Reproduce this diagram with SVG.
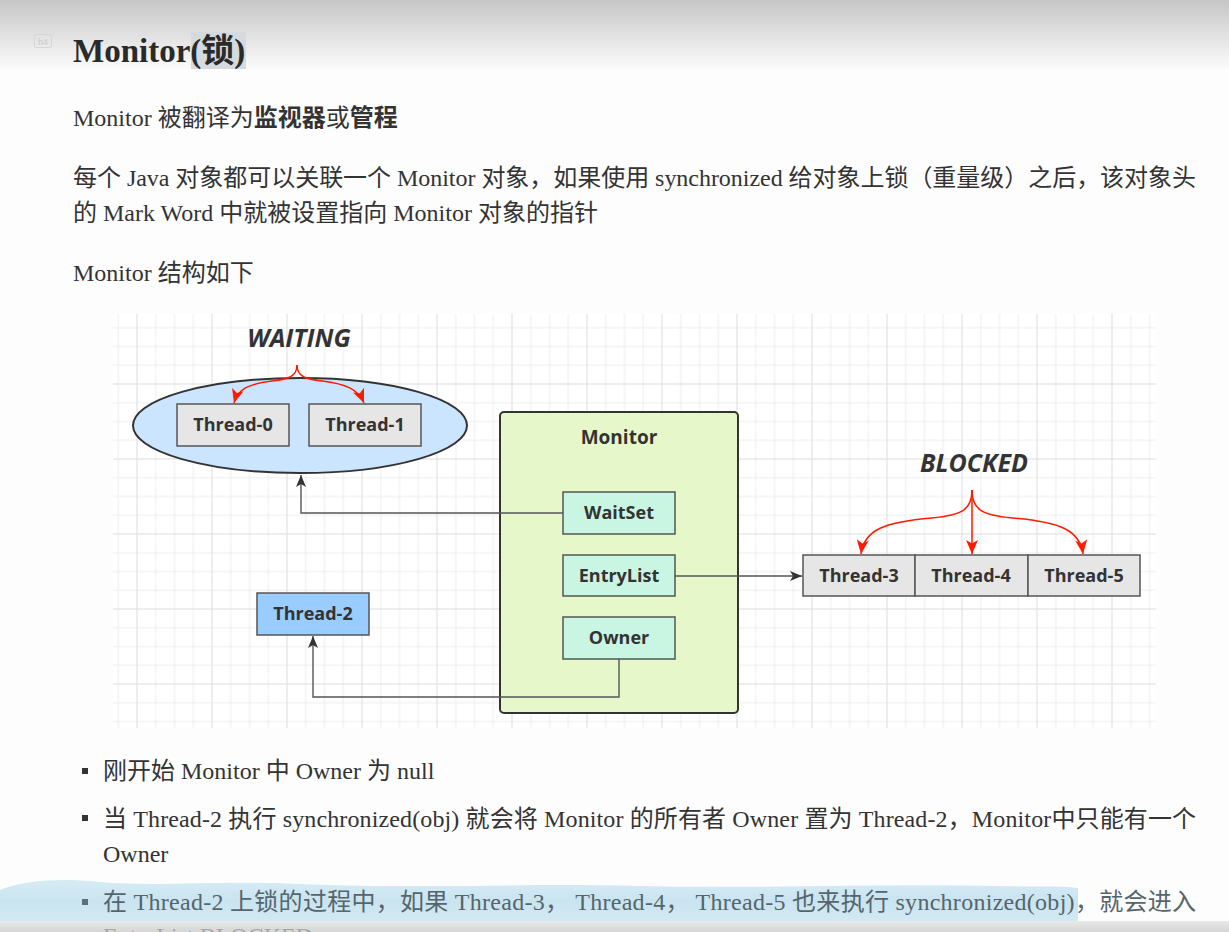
<svg xmlns="http://www.w3.org/2000/svg" width="1229" height="932" viewBox="0 0 1229 932">
<defs>
<linearGradient id="topfade" x1="0" y1="0" x2="0" y2="1">
<stop offset="0" stop-color="#c6c6c6"/>
<stop offset="1" stop-color="#fcfcfc"/>
</linearGradient>
<linearGradient id="botband" x1="0" y1="0" x2="0" y2="1">
<stop offset="0" stop-color="#e2e2e2"/>
<stop offset="1" stop-color="#c8c8c8"/>
</linearGradient>
<linearGradient id="brush" x1="0" y1="0" x2="0" y2="1">
<stop offset="0" stop-color="#d6ecf5"/>
<stop offset="0.5" stop-color="#c9e4f0"/>
<stop offset="1" stop-color="#d2e9f3"/>
</linearGradient>
<pattern id="grid" patternUnits="userSpaceOnUse" x="61.5" y="8.5" width="75" height="75">
<path d="M0.5 0V75M19.25 0V75M38 0V75M56.75 0V75M0 0.5H75M0 19.25H75M0 38H75M0 56.75H75" stroke="#ececec" stroke-width="1" fill="none"/>
<path d="M0.5 0V75M0 0.5H75" stroke="#dddddd" stroke-width="1" fill="none"/>
</pattern>
<marker id="arrDark" markerUnits="userSpaceOnUse" markerWidth="14" markerHeight="12" refX="12" refY="5" orient="auto">
<path d="M0 0L12 5L0 10L3 5z" fill="#333"/>
</marker>
<marker id="arrRed" markerUnits="userSpaceOnUse" markerWidth="16" markerHeight="14" refX="14" refY="6" orient="auto">
<path d="M0 0L14 6L0 12L3.5 6z" fill="#ff1a00"/>
</marker>
</defs>
<style>
.body{font-family:"Liberation Serif","Noto Sans CJK SC",serif;font-size:24px;fill:#333}
.b{font-weight:bold;font-family:"Noto Sans CJK SC",sans-serif}
.dg{font-family:"Open Sans","Noto Sans",sans-serif;font-weight:700;fill:#333;text-anchor:middle}
.lbl{font-size:18px}
.state{font-size:25px;font-style:italic}
.thr{fill:#e6e6e6;stroke:#555;stroke-width:1.5}
.sub{fill:#c9f5e3;stroke:#555;stroke-width:1.5}
.conn{fill:none;stroke:#555;stroke-width:1.4}
.red{fill:none;stroke:#ff1a00;stroke-width:1.5}
</style>
<rect x="0" y="0" width="1229" height="932" fill="#fdfdfd"/>
<rect x="0" y="0" width="1229" height="70" fill="url(#topfade)"/>

<!-- header -->
<rect x="34.5" y="34.5" width="17" height="13" rx="2" fill="none" stroke="#d6d6d6"/>
<text x="43" y="45" font-family="Liberation Sans,sans-serif" font-size="9" fill="#c8c8c8" text-anchor="middle">h4</text>
<rect x="191" y="32" width="55" height="37" fill="#d5dadf"/>
<text x="73" y="62" font-family="'Liberation Serif','Noto Sans CJK SC',serif" font-size="33" font-weight="bold" fill="#2a2a2a">Monitor(锁)</text>

<text class="body" x="73" y="126">Monitor 被翻译为<tspan class="b">监视器</tspan>或<tspan class="b">管程</tspan></text>
<text class="body" x="73" y="186" textLength="1123" lengthAdjust="spacing">每个 Java 对象都可以关联一个 Monitor 对象，如果使用 synchronized 给对象上锁（重量级）之后，该对象头</text>
<text class="body" x="73" y="221">的 Mark Word 中就被设置指向 Monitor 对象的指针</text>
<text class="body" x="73" y="281">Monitor 结构如下</text>

<!-- grid background -->
<rect x="113" y="314" width="1043" height="414" fill="#ffffff"/>
<rect x="113" y="314" width="1043" height="414" fill="url(#grid)"/>

<!-- nodes -->
<g id="waiting-label"><text class="dg state" x="299" y="347">WAITING</text></g>
<g id="waitset-ellipse"><ellipse cx="300" cy="425.5" rx="167" ry="47.5" fill="#cce5ff" stroke="#333" stroke-width="2"/></g>
<g id="thread-0"><rect class="thr" x="177" y="404" width="112" height="42"/><text class="dg lbl" x="233" y="431">Thread-0</text></g>
<g id="thread-1"><rect class="thr" x="309" y="404" width="112" height="42"/><text class="dg lbl" x="365" y="431">Thread-1</text></g>

<g id="monitor"><rect x="500" y="412" width="238" height="301" rx="4" fill="#e6f8c9" stroke="#333" stroke-width="2"/><text class="dg" font-size="19" x="619" y="444">Monitor</text></g>
<g id="waitset"><rect class="sub" x="563" y="492" width="112" height="42"/><text class="dg lbl" x="619" y="519">WaitSet</text></g>
<g id="entrylist"><rect class="sub" x="563" y="555" width="112" height="41"/><text class="dg lbl" x="619" y="582">EntryList</text></g>
<g id="owner"><rect class="sub" x="563" y="617" width="112" height="42"/><text class="dg lbl" x="619" y="644">Owner</text></g>

<g id="thread-2"><rect x="257" y="593" width="112" height="42" fill="#99ccff" stroke="#555" stroke-width="1.5"/><text class="dg lbl" x="313" y="620">Thread-2</text></g>

<g id="blocked-label"><text class="dg state" x="974" y="472">BLOCKED</text></g>
<g id="thread-3"><rect class="thr" x="803" y="555" width="112" height="41"/><text class="dg lbl" x="859" y="582">Thread-3</text></g>
<g id="thread-4"><rect class="thr" x="915" y="555" width="113" height="41"/><text class="dg lbl" x="971" y="582">Thread-4</text></g>
<g id="thread-5"><rect class="thr" x="1028" y="555" width="112" height="41"/><text class="dg lbl" x="1084" y="582">Thread-5</text></g>

<!-- connectors -->
<g id="connectors">
<path class="conn" d="M563 513H301V475" marker-end="url(#arrDark)"/>
<path class="conn" d="M675 576H802" marker-end="url(#arrDark)"/>
<path class="conn" d="M619 659V697H313V636" marker-end="url(#arrDark)"/>
<path class="red" d="M297 365C297 377 288 379 272 381C248 384 238 389 234 403" marker-end="url(#arrRed)"/>
<path class="red" d="M297 365C297 377 306 379 322 381C346 384 358 389 364 403" marker-end="url(#arrRed)"/>
<path class="red" d="M972 490C972 510 962 515 932 518C884 522 864 530 861 554" marker-end="url(#arrRed)"/>
<path class="red" d="M972 490V554" marker-end="url(#arrRed)"/>
<path class="red" d="M972 490C972 510 982 515 1012 518C1060 522 1080 530 1083 554" marker-end="url(#arrRed)"/>
</g>

<!-- bullets -->
<rect x="82" y="768" width="6" height="6" fill="#333"/>
<text class="body" x="103" y="779">刚开始 Monitor 中 Owner 为 null</text>
<rect x="82" y="815" width="6" height="6" fill="#333"/>
<text class="body" x="103" y="827" textLength="1093" lengthAdjust="spacing">当 Thread-2 执行 synchronized(obj) 就会将 Monitor 的所有者 Owner 置为 Thread-2，Monitor中只能有一个</text>
<text class="body" x="103" y="862">Owner</text>

<path d="M0 890C25 880 60 878 100 882C160 887 220 880 300 884C420 889 520 883 640 886C760 889 880 883 1000 886C1040 887 1065 886 1078 888L1078 921L0 921Z" fill="url(#brush)"/>
<rect x="82" y="899" width="6" height="6" fill="#5f6f75"/>
<text class="body" x="103" y="910" textLength="1093" lengthAdjust="spacing" style="fill:#55656b">在 Thread-2 上锁的过程中，如果 Thread-3， Thread-4， Thread-5 也来执行 synchronized(obj)，就会进入</text>
<text class="body" x="103" y="944">EntryList BLOCKED</text>
<rect x="0" y="921" width="1229" height="11" fill="url(#botband)" opacity="0.75"/>
</svg>
